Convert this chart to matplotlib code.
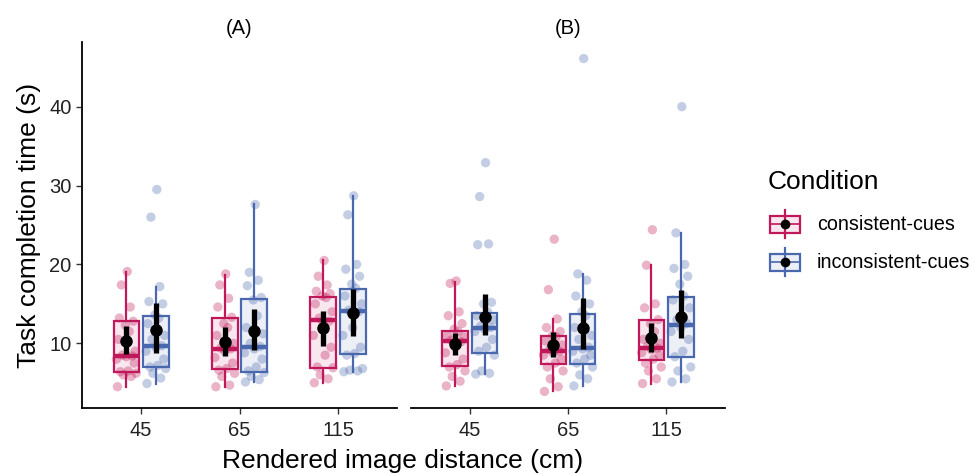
import numpy as np
import matplotlib
matplotlib.use('Agg')
from matplotlib import pyplot as plt
from matplotlib.patches import Rectangle

plt.rcParams['font.family'] = ['Liberation Sans', 'DejaVu Sans']

distances = ['45', '65', '115']
conditions = ['consistent-cues', 'inconsistent-cues']
colors = {'consistent-cues': '#C0185A', 'inconsistent-cues': '#4A68AE'}

# raw completion times (s)
pts_A_cons = [
    [4.5, 5.8, 6.0, 6.2, 6.4, 6.5, 7.5, 8.0, 8.3, 8.4, 8.5, 9.0, 10.5, 11.5, 12.3, 12.8, 13.2, 14.6, 17.4, 19.1],
    [4.5, 4.7, 5.8, 6.2, 6.6, 6.8, 7.5, 8.2, 9.0, 9.3, 9.4, 10.0, 11.0, 12.0, 12.5, 13.3, 14.6, 15.7, 17.4, 18.8],
    [5.0, 5.5, 6.0, 6.9, 7.0, 8.5, 9.5, 11.0, 12.5, 12.8, 13.2, 14.0, 15.0, 15.8, 16.0, 16.3, 16.6, 17.4, 18.5, 20.5],
]
pts_A_incons = [
    [4.9, 5.6, 6.2, 6.8, 7.0, 7.2, 8.0, 9.0, 9.5, 9.7, 10.5, 11.0, 12.5, 13.2, 13.6, 15.0, 15.3, 17.2, 26.0, 29.5],
    [5.1, 5.4, 5.8, 6.3, 6.5, 7.0, 8.0, 8.8, 9.3, 9.6, 10.0, 11.2, 12.0, 13.5, 15.5, 15.8, 17.3, 18.0, 19.0, 27.6],
    [6.4, 6.5, 6.6, 6.8, 8.5, 8.7, 9.5, 11.0, 12.0, 14.0, 14.2, 15.0, 16.0, 17.0, 17.5, 18.5, 19.4, 20.0, 26.3, 28.7],
]
pts_B_cons = [
    [4.6, 5.2, 5.8, 6.5, 7.0, 7.3, 8.0, 8.8, 9.5, 10.2, 10.4, 10.8, 11.0, 11.5, 11.8, 12.5, 13.5, 14.0, 17.6, 17.9],
    [3.9, 4.5, 5.5, 6.5, 7.0, 7.5, 8.0, 8.5, 8.8, 9.0, 9.2, 9.8, 10.3, 10.8, 11.0, 11.5, 12.0, 13.1, 16.8, 23.2],
    [4.9, 5.5, 6.5, 7.0, 7.5, 8.0, 8.5, 8.8, 9.2, 9.4, 9.6, 10.0, 10.5, 11.5, 12.5, 13.0, 14.5, 15.0, 19.9, 24.4],
]
pts_B_incons = [
    [6.1, 6.2, 6.5, 8.5, 9.0, 9.5, 10.5, 11.5, 11.8, 12.0, 12.2, 13.0, 13.5, 14.0, 15.0, 15.2, 22.5, 22.6, 28.6, 32.9],
    [4.6, 5.5, 6.0, 7.0, 7.5, 8.0, 8.5, 9.0, 9.3, 9.5, 10.5, 11.0, 12.0, 13.5, 14.0, 15.0, 16.0, 18.0, 18.8, 46.1],
    [5.1, 5.5, 6.5, 7.0, 8.3, 9.0, 10.5, 11.5, 12.0, 12.5, 13.0, 14.5, 15.5, 16.0, 17.5, 18.5, 19.5, 20.0, 24.0, 40.0],
]

# box stats: whisker low, q1, median, q3, whisker high
box_A_cons = [[4.5, 6.4, 8.4, 12.8, 19.1], [4.5, 6.7, 9.3, 13.2, 18.7], [5.0, 6.9, 13.0, 15.9, 20.5]]
box_A_incons = [[4.9, 7.0, 9.6, 13.5, 17.2], [5.1, 6.4, 9.5, 15.6, 27.6], [6.4, 8.6, 14.1, 16.9, 28.7]]
box_B_cons = [[4.6, 7.1, 10.3, 11.6, 17.8], [3.9, 7.4, 9.0, 10.9, 13.1], [4.9, 7.9, 9.4, 13.0, 19.9]]
box_B_incons = [[6.1, 8.8, 12.0, 13.9, 15.2], [4.6, 7.4, 9.4, 13.7, 18.8], [5.1, 8.3, 12.35, 15.9, 24.0]]

# mean and interval: low, mean, high
mean_A_cons = [[8.6, 10.25, 12.2], [8.4, 10.2, 12.1], [9.6, 12.0, 14.1]]
mean_A_incons = [[8.8, 11.7, 15.1], [9.1, 11.5, 14.4], [10.9, 13.8, 16.9]]
mean_B_cons = [[8.5, 9.9, 11.3], [8.3, 9.75, 11.4], [8.9, 10.7, 12.6]]
mean_B_incons = [[11.0, 13.4, 16.2], [9.3, 12.0, 15.7], [10.7, 13.4, 16.7]]

panels = {
    '(A)': {'consistent-cues': (pts_A_cons, box_A_cons, mean_A_cons),
            'inconsistent-cues': (pts_A_incons, box_A_incons, mean_A_incons)},
    '(B)': {'consistent-cues': (pts_B_cons, box_B_cons, mean_B_cons),
            'inconsistent-cues': (pts_B_incons, box_B_incons, mean_B_incons)},
}

jitter = [-0.09, 0.05, -0.03, 0.10, -0.06, 0.02, 0.08, -0.10, 0.00, 0.06,
          -0.04, 0.09, -0.08, 0.03, -0.01, 0.07, -0.07, 0.04, -0.05, 0.01]
dodge = {'consistent-cues': -0.15, 'inconsistent-cues': 0.15}
bw = 0.26

fig = plt.figure(figsize=(9.77, 4.74), dpi=100)
W, H = 977, 474
axA = fig.add_axes([82 / W, 1 - 408 / H, 315 / W, 366 / H])
axB = fig.add_axes([411 / W, 1 - 408 / H, 314 / W, 366 / H], sharey=axA)

for ax, (name, pdata) in zip([axA, axB], panels.items()):
    xs = np.arange(1, 4)
    for cond in conditions:
        pts, boxes, means = pdata[cond]
        c = colors[cond]
        pos = xs + dodge[cond]
        stats = [dict(whislo=b[0], q1=b[1], med=b[2], q3=b[3], whishi=b[4]) for b in boxes]
        bp = ax.bxp(stats, positions=pos, widths=bw, showfliers=False, showcaps=False,
                    patch_artist=True,
                    boxprops=dict(facecolor=c + '1A', edgecolor=c, linewidth=1.6),
                    whiskerprops=dict(color=c, linewidth=1.6),
                    medianprops=dict(color=c, linewidth=3.2, solid_capstyle='butt'))
        for i, vals in enumerate(pts):
            px = pos[i] + np.array(jitter[:len(vals)])
            ax.scatter(px, vals, s=45, color=c, alpha=0.33, edgecolors='none', zorder=3)
        for i, m in enumerate(means):
            ax.errorbar(pos[i], m[1], yerr=[[m[1] - m[0]], [m[2] - m[1]]], fmt='o', color='black',
                        elinewidth=3.8, markersize=8, capsize=0, zorder=4)
    ax.set_xlim(0.4, 3.6)
    ax.set_xticks(xs)
    ax.set_xticklabels(distances, fontsize=14.5)
    ax.set_title(name, fontsize=14.5, pad=6)
    for s in ['top', 'right']:
        ax.spines[s].set_visible(False)
    ax.spines['bottom'].set_linewidth(1.3)
    ax.spines['left'].set_linewidth(1.3)
    ax.tick_params(axis='x', length=4, width=1, color='#333333', labelcolor='#222222', pad=5)

axA.set_ylim(1.8, 48.2)
axA.set_yticks([10, 20, 30, 40])
axA.tick_params(axis='y', labelsize=14.5, length=4, width=1, color='#333333', labelcolor='#222222')
axA.set_ylabel('Task completion time (s)', fontsize=19, labelpad=6)
axB.spines['left'].set_visible(False)
axB.tick_params(axis='y', left=False, labelleft=False)

fig.text(403 / W, 1 - 461 / H, 'Rendered image distance (cm)', ha='center', va='center', fontsize=19)

# legend drawn in pixel coordinates
lg = fig.add_axes([0, 0, 1, 1], facecolor='none')
lg.set_xlim(0, W)
lg.set_ylim(H, 0)
lg.axis('off')
lg.text(768, 182, 'Condition', fontsize=19, va='center', ha='left')
for cond, yc in zip(conditions, [224, 262]):
    c = colors[cond]
    lg.plot([785, 785], [yc - 14, yc + 14], color=c, lw=1.6)
    lg.add_patch(Rectangle((770, yc - 8.5), 30, 17, facecolor=c + '1A', edgecolor=c, lw=1.6))
    lg.plot([770, 800], [yc, yc], color=c, lw=1.2)
    lg.plot(785, yc, 'o', color='black', markersize=6)
    lg.text(817, yc, cond, fontsize=14.2, va='center', ha='left')

fig.savefig('out.png', dpi=100)
